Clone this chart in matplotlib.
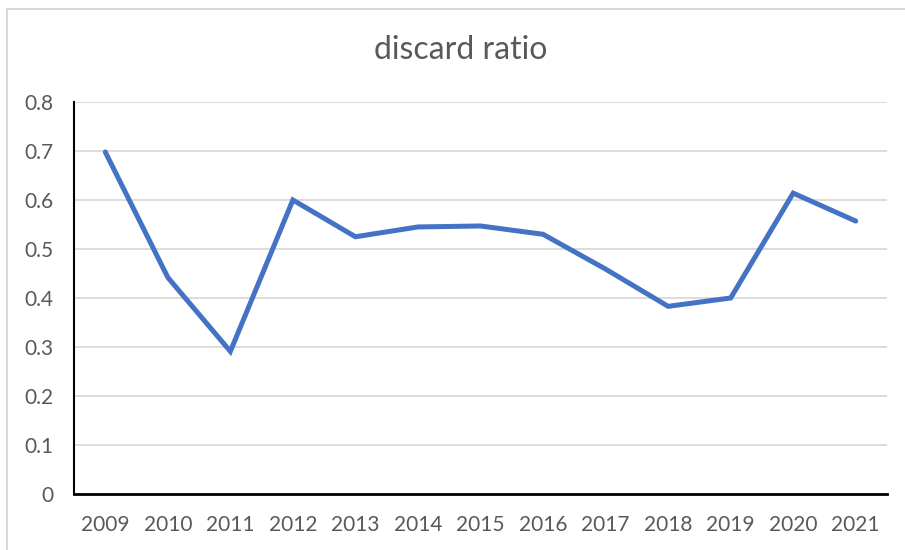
import matplotlib.pyplot as plt
from matplotlib.patches import Rectangle

# discard ratio per year
years = ['2009', '2010', '2011', '2012', '2013', '2014', '2015',
         '2016', '2017', '2018', '2019', '2020', '2021']
ratio = [0.698, 0.442, 0.291, 0.600, 0.525, 0.545, 0.547,
         0.530, 0.459, 0.383, 0.400, 0.614, 0.557]
yticks = [0, 0.1, 0.2, 0.3, 0.4, 0.5, 0.6, 0.7, 0.8]
ytick_labels = ['0', '0.1', '0.2', '0.3', '0.4', '0.5', '0.6', '0.7', '0.8']

plt.rcParams['font.family'] = ['Lato', 'DejaVu Sans']

fig = plt.figure(figsize=(9.05, 5.5), dpi=100)
ax = fig.add_axes([74 / 905, 1 - 494 / 550, (887 - 74) / 905, (494 - 102) / 550])

# light grey chart frame (Excel style), running off the right and bottom edges
fig.patches.append(Rectangle((7 / 905, -0.05), 1.2, 1 - 9 / 550 + 0.05,
                             transform=fig.transFigure, fill=False,
                             edgecolor='#d9d9d9', linewidth=1.5))

x = list(range(len(years)))
ax.plot(x, ratio, color='#4472C4', linewidth=3.6, solid_capstyle='round',
        solid_joinstyle='miter')

ax.set_xlim(-0.5, len(years) - 0.5)
ax.set_ylim(0, 0.8)
ax.set_xticks(x)
ax.set_xticklabels(years)
ax.set_yticks(yticks)
ax.set_yticklabels(ytick_labels)
ax.grid(axis='y', color='#d9d9d9', linewidth=1.3)
ax.set_axisbelow(True)

for side in ['top', 'right']:
    ax.spines[side].set_visible(False)
ax.spines['left'].set_linewidth(1.5)
ax.spines['bottom'].set_linewidth(2)
ax.tick_params(axis='both', length=0, labelsize=15, colors='#595959')
ax.tick_params(axis='x', pad=15)
ax.tick_params(axis='y', pad=15)

fig.text(461 / 905, 1 - 50 / 550, 'discard ratio', ha='center', va='center',
         fontsize=23, color='#595959')

fig.savefig('out.png', dpi=100)
